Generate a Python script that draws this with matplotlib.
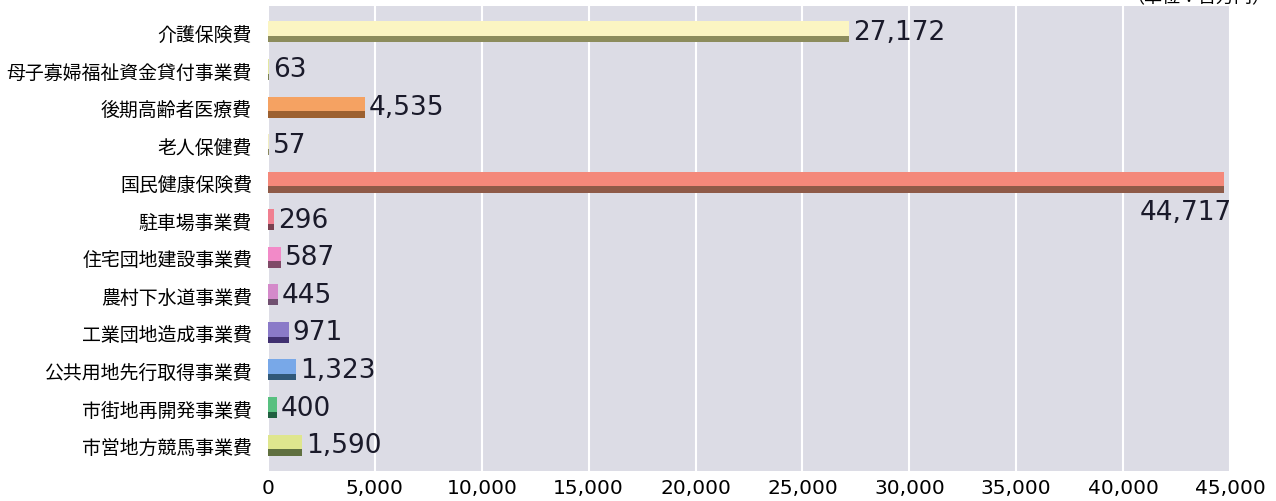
import matplotlib
matplotlib.use("Agg")
import matplotlib.pyplot as plt
from matplotlib.transforms import offset_copy

plt.rcParams['font.family'] = ['Noto Sans CJK JP', 'DejaVu Sans']

categories = ["介護保険費", "母子寡婦福祉資金貸付事業費", "後期高齢者医療費", "老人保健費",
              "国民健康保険費", "駐車場事業費", "住宅団地建設事業費", "農村下水道事業費",
              "工業団地造成事業費", "公共用地先行取得事業費", "市街地再開発事業費", "市営地方競馬事業費"]
values = [27172, 63, 4535, 57, 44717, 296, 587, 445, 971, 1323, 400, 1590]
light_colors = ["#fbf5c2", "#e4e8a0", "#f5a262", "#f2eec0", "#f4887a", "#f07f90",
                "#f28ac8", "#d48aca", "#8a7ac8", "#78a8e8", "#58c080", "#dfe68e"]
dark_colors = ["#8c8c5c", "#7a8050", "#9c6030", "#8a8860", "#8e5a48", "#7a4050",
               "#804a68", "#705070", "#403070", "#305878", "#206040", "#607040"]
xticks = [0, 5000, 10000, 15000, 20000, 25000, 30000, 35000, 40000, 45000]
unit_label = "（単位：百万円）"

fig = plt.figure(figsize=(12.76, 5.02), dpi=100)
ax = fig.add_axes([268/1276, 1-472/502, (1230-268)/1276, (472-7)/502])
ax.set_facecolor("#dcdce5")

ypos = list(range(len(categories)))
bar_h = 0.56
dark_h = 0.17
# light top part
ax.barh([y - dark_h/2 for y in ypos], values, height=bar_h - dark_h, color=light_colors, zorder=3)
# dark bottom strip
ax.barh([y + (bar_h - dark_h)/2 for y in ypos], values, height=dark_h, color=dark_colors, zorder=3)

ax.set_xlim(0, 45000)
ax.set_ylim(len(categories) - 1 + 0.69, -0.69)
ax.set_xticks(xticks)
ax.set_xticklabels([f"{v:,}" for v in xticks], fontsize=14.5, family=['DejaVu Sans'])
ax.set_yticks(ypos)
ax.set_yticklabels(categories, fontsize=13.6)
ax.tick_params(axis='x', length=0, pad=5)
ax.tick_params(axis='y', length=0, pad=11.5)
ax.grid(axis='x', color='white', linewidth=1.5, zorder=1)
for s in ax.spines.values():
    s.set_visible(False)

for i, v in enumerate(values):
    if v > 40000:
        ax.text(v, i + 0.8, f"{v:,}", fontsize=19, ha='right', va='center',
                color="#1a1a2a", family=['DejaVu Sans'], zorder=4,
                transform=offset_copy(ax.transData, fig=fig, x=8, y=0, units='dots'))
    else:
        ax.text(v, i, f"{v:,}", fontsize=19, ha='left', va='center',
                color="#1a1a2a", family=['DejaVu Sans'], zorder=4,
                transform=offset_copy(ax.transData, fig=fig, x=4, y=0, units='dots'))

fig.text(1270/1276, 1 + 2/502, unit_label, fontsize=13, ha='right', va='center')

fig.savefig("out.png", dpi=100)
